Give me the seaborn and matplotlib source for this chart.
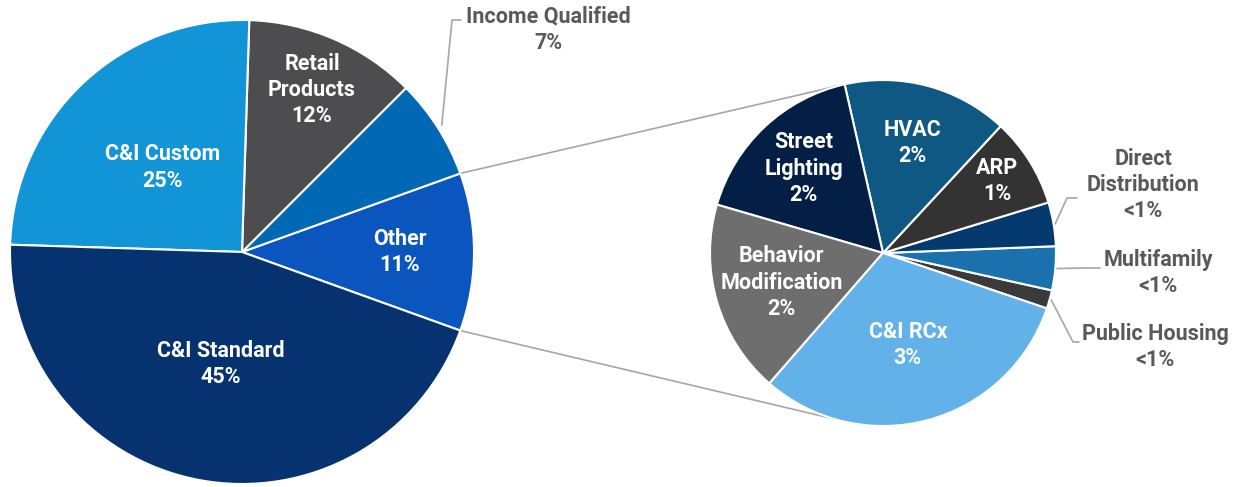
import numpy as np
import matplotlib
matplotlib.use("Agg")
import matplotlib.pyplot as plt
import seaborn as sns
from matplotlib import font_manager

sns.set_theme(style="white")
avail = {f.name for f in font_manager.fontManager.ttflist}
fam = [f for f in ["Liberation Sans Narrow", "Roboto", "DejaVu Sans"] if f in avail]
plt.rcParams['font.family'] = fam

# ---- data ----
main_labels = ["Other", "Income Qualified", "Retail\nProducts", "C&I Custom", "C&I Standard"]
main_values = [11, 7, 12, 25, 45]
main_pct = ["11%", "7%", "12%", "25%", "45%"]
main_colors = ["#0A56BE", "#0068B5", "#4D4D4F", "#1195D6", "#06336F"]

sub_labels = ["Public Housing", "Multifamily", "Direct\nDistribution", "ARP", "HVAC",
              "Street\nLighting", "Behavior\nModification", "C&I RCx"]
sub_values = [0.19, 0.45, 0.45, 0.92, 1.70, 1.86, 1.99, 3.43]
sub_pct = ["<1%", "<1%", "<1%", "1%", "2%", "2%", "2%", "3%"]
sub_colors = ["#3A3A3A", "#1B70AE", "#043A6E", "#333333", "#0E5883",
              "#031F45", "#6E6E6E", "#62B1E8"]

W, H = 1234, 487
fig = plt.figure(figsize=(W / 100, H / 100), dpi=100)
ax = fig.add_axes([0, 0, 1, 1])

c1, r1 = (242, 487 - 252), 232
c2, r2 = (883, 487 - 253), 173

w1, _ = ax.pie(main_values, colors=main_colors, startangle=-19.8, center=c1, radius=r1,
               wedgeprops=dict(edgecolor="white", linewidth=1.5), frame=True)
w2, _ = ax.pie(sub_values, colors=sub_colors, startangle=-18.7, center=c2, radius=r2,
               wedgeprops=dict(edgecolor="white", linewidth=1.5), frame=True)
ax.set_xlim(0, W)
ax.set_ylim(0, H)
ax.set_aspect("equal")
ax.axis("off")

def pt(c, r, ang):
    a = np.deg2rad(ang)
    return c[0] + r * np.cos(a), c[1] + r * np.sin(a)

fs = 15.5
ls = 1.25
wt = "semibold"
# inside labels for main pie
inside_main = {0: 0.68, 2: 0.76, 3: 0.50, 4: 0.49}
for i, d in inside_main.items():
    w = w1[i]
    mid = (w.theta1 + w.theta2) / 2
    x, y = pt(c1, r1 * d, mid)
    ax.text(x, y, f"{main_labels[i]}\n{main_pct[i]}", ha="center", va="center",
            color="white", fontsize=fs, fontweight=wt, linespacing=ls)

inside_sub = {3: 0.78, 4: 0.66, 5: 0.67, 6: 0.61, 7: 0.55}
for i, d in inside_sub.items():
    w = w2[i]
    mid = (w.theta1 + w.theta2) / 2
    x, y = pt(c2, r2 * d, mid)
    ax.text(x, y, f"{sub_labels[i]}\n{sub_pct[i]}", ha="center", va="center",
            color="white", fontsize=fs, fontweight=wt, linespacing=ls)

lc = "#A6A6A6"
tc = "#595959"
# Income Qualified leader
w = w1[1]
mid = (w.theta1 + w.theta2) / 2
x0, y0 = pt(c1, r1 * 1.02, mid)
ax.plot([x0, 452, 461], [y0, 487 - 20, 487 - 20], color=lc, lw=1.2)
ax.text(548, 487 - 30, f"Income Qualified\n{main_pct[1]}", ha="center", va="center",
        color=tc, fontsize=fs, fontweight=wt, linespacing=ls)

# sub outside labels
outs = {
    2: ((1067, 198), (1077, 198), (1143, 185)),
    1: ((1085, 268), (1100, 268), (1158, 273)),
    0: ((1073, 342), (1079, 342), (1155, 347)),
}
for i, (e1, e2, tp) in outs.items():
    w = w2[i]
    mid = (w.theta1 + w.theta2) / 2
    x0, y0 = pt(c2, r2 * 1.01, mid)
    ax.plot([x0, e1[0], e2[0]], [y0, 487 - e1[1], 487 - e2[1]], color=lc, lw=1.2)
    ax.text(tp[0], 487 - tp[1], f"{sub_labels[i]}\n{sub_pct[i]}", ha="center", va="center",
            color=tc, fontsize=fs, fontweight=wt, linespacing=ls)

# connector lines
other = w1[0]
p_top = pt(c1, r1, other.theta2)
p_bot = pt(c1, r1, other.theta1)
q_top = pt(c2, r2, 104.3)
q_bot = pt(c2, r2, 253.6)
ax.plot([p_top[0], q_top[0]], [p_top[1], q_top[1]], color=lc, lw=1.2, zorder=0.5)
ax.plot([p_bot[0], q_bot[0]], [p_bot[1], q_bot[1]], color=lc, lw=1.2, zorder=0.5)

fig.savefig("out.png", dpi=100, facecolor="white")
